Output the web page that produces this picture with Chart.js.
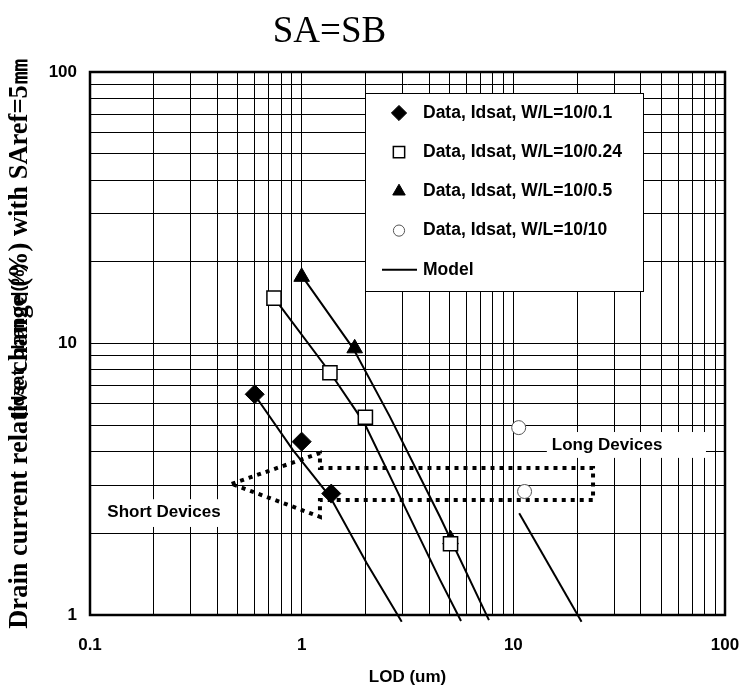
<!DOCTYPE html>
<html>
<head>
<meta charset="utf-8">
<script src="https://cdn.jsdelivr.net/npm/chart.js@4.4.1/dist/chart.umd.min.js"></script>
<style>
html, body { margin: 0; padding: 0; background: #fff; }
canvas { display: block; }
</style>
</head>
<body>
<canvas id="grafico" width="742" height="691"></canvas>
<script>
// decadas de los ejes (etiquetas)
const xDecadas = [0.1, 1, 10, 100];
const yDecadas = [1, 10, 100];

// datos medidos: [LOD (um), cambio (%)]
const datosL01 = [[0.6, 6.5], [1.0, 4.35], [1.38, 2.8]];
const datosL024 = [[0.74, 14.7], [1.36, 7.8], [2.0, 5.35], [5.05, 1.83]];
const datosL05 = [[1.0, 17.6], [1.78, 9.6], [5.05, 1.9]];
const datosL10 = [[10.6, 4.9], [11.3, 2.85]];

// curvas del modelo
const modeloL01 = [[0.6, 6.46], [0.91, 4.05], [1.36, 2.73], [2.03, 1.55], [2.97, 0.945]];
const modeloL024 = [[0.75, 14.55], [1.37, 7.77], [1.98, 5.08], [2.91, 2.73], [4.5, 1.35], [5.66, 0.95]];
const modeloL05 = [[1.02, 17.4], [1.75, 9.6], [2.61, 5.38], [4.5, 2.3], [7.67, 0.958]];
const modeloL10 = [[10.66, 2.37], [21.0, 0.945]];

// flecha punteada (short / long devices)
const flecha = [[0.467, 3.04], [1.22, 3.95], [1.22, 3.48], [23.8, 3.48], [23.8, 2.65], [1.22, 2.65], [1.22, 2.30], [0.467, 3.04]];

// textos dentro del grafico
const etiquetas = [
  { texto: 'Long Devices', x: 15.2, y: 4.23, caja: [14.4, 81.3, 3.79, 4.72] },
  { texto: 'Short Devices', x: 0.1207, y: 2.38, caja: [0.1115, 0.469, 2.11, 2.67] }
];

const SANS = '"Liberation Sans", Arial, sans-serif';
const SERIF = '"Liberation Serif", "Times New Roman", serif';

const pts = a => a.map(p => ({ x: p[0], y: p[1] }));

function rejilla(dec) {
  const out = [];
  for (let i = 0; i < dec.length - 1; i++) {
    for (let k = 1; k < 10; k++) out.push(+(dec[i] * k).toPrecision(3));
  }
  out.push(dec[dec.length - 1]);
  return out;
}

const modelo = (d) => ({
  label: 'Model', data: pts(d), showLine: true, pointRadius: 0,
  borderColor: '#000', borderWidth: 2, clip: { left: 0, top: 0, right: 0, bottom: 8 }
});

const extras = {
  id: 'extras',
  beforeDatasetsDraw(chart) {
    const { ctx, scales: { x, y } } = chart;
    ctx.save();
    ctx.font = 'bold 17px ' + SANS;
    ctx.textBaseline = 'middle';
    etiquetas.forEach(e => {
      const [x0, x1, y0, y1] = e.caja;
      const px0 = x.getPixelForValue(x0), px1 = x.getPixelForValue(x1);
      const py0 = y.getPixelForValue(y0), py1 = y.getPixelForValue(y1);
      ctx.fillStyle = '#fff';
      ctx.fillRect(px0, py1, px1 - px0, py0 - py1);
      ctx.fillStyle = '#000';
      ctx.fillText(e.texto, x.getPixelForValue(e.x), y.getPixelForValue(e.y));
    });
    ctx.restore();
  },
  afterDraw(chart) {
    const { ctx, chartArea: ca } = chart;
    ctx.save();
    // marco del area
    ctx.strokeStyle = '#000';
    ctx.lineWidth = 2.5;
    ctx.strokeRect(ca.left, ca.top, ca.right - ca.left, ca.bottom - ca.top);

    // leyenda
    ctx.fillStyle = '#fff';
    ctx.fillRect(365, 93, 278, 198);
    ctx.lineWidth = 1;
    ctx.strokeRect(365.5, 93.5, 278, 198);
    ctx.font = 'bold 17.5px ' + SANS;
    ctx.textBaseline = 'middle';
    ctx.textAlign = 'left';
    for (let i = 0; i < 4; i++) {
      const ds = chart.data.datasets[i];
      const yy = 113 + i * 39.2;
      ctx.fillStyle = ds.backgroundColor;
      ctx.strokeStyle = ds.borderColor;
      ctx.lineWidth = ds.borderWidth;
      Chart.helpers.drawPoint(ctx, { pointStyle: ds.pointStyle, radius: ds.pointRadius * 0.8, rotation: 0, borderWidth: ds.borderWidth }, 399, yy);
      ctx.fillStyle = '#000';
      ctx.fillText(ds.label, 423, yy);
    }
    const ym = 113 + 4 * 39.2;
    ctx.strokeStyle = '#000';
    ctx.lineWidth = 2;
    ctx.beginPath();
    ctx.moveTo(382, ym);
    ctx.lineTo(417, ym);
    ctx.stroke();
    ctx.fillStyle = '#000';
    ctx.fillText('Model', 423, ym);

    // titulo
    ctx.font = '37px ' + SERIF;
    ctx.textAlign = 'center';
    ctx.textBaseline = 'alphabetic';
    ctx.fillText('SA=SB', 329.5, 42);

    // texto superpuesto en el eje y
    ctx.translate(19, 340);
    ctx.rotate(-Math.PI / 2);
    ctx.font = 'bold 18px ' + SANS;
    ctx.textBaseline = 'middle';
    ctx.fillText('|Idsat_change|(%)', 0, 0);
    ctx.restore();
  }
};

new Chart(document.getElementById('grafico'), {
  type: 'scatter',
  data: {
    datasets: [
      { label: 'Data, Idsat, W/L=10/0.1', data: pts(datosL01), pointStyle: 'rectRot', pointRadius: 9.5,
        backgroundColor: '#000', borderColor: '#000', borderWidth: 1 },
      { label: 'Data, Idsat, W/L=10/0.24', data: pts(datosL024), pointStyle: 'rect', pointRadius: 10,
        backgroundColor: '#fff', borderColor: '#000', borderWidth: 1.5 },
      { label: 'Data, Idsat, W/L=10/0.5', data: pts(datosL05), pointStyle: 'triangle', pointRadius: 9,
        backgroundColor: '#000', borderColor: '#000', borderWidth: 1 },
      { label: 'Data, Idsat, W/L=10/10', data: pts(datosL10), pointStyle: 'circle', pointRadius: 7,
        backgroundColor: '#fff', borderColor: '#555', borderWidth: 1 },
      modelo(modeloL01),
      modelo(modeloL024),
      modelo(modeloL05),
      modelo(modeloL10),
      { label: '', data: pts(flecha), showLine: true, pointRadius: 0, borderColor: '#000',
        borderWidth: 4, borderDash: [4, 5] }
    ]
  },
  options: {
    responsive: false,
    animation: false,
    devicePixelRatio: 1,
    layout: { padding: { top: 72, right: 0, left: 0, bottom: 0 } },
    plugins: { legend: { display: false }, tooltip: { enabled: false } },
    scales: {
      x: {
        type: 'logarithmic', min: 0.1, max: 100,
        afterBuildTicks: s => { s.ticks = rejilla(xDecadas).map(v => ({ value: v })); },
        afterFit: s => { s.height = 76; s.paddingRight = 17; s.paddingLeft = 0; },
        grid: { color: '#000', lineWidth: 1, drawTicks: false },
        border: { display: false },
        ticks: {
          autoSkip: false, maxRotation: 0, padding: 20, color: '#000',
          font: { family: SANS, size: 17, weight: 'bold' },
          callback: v => xDecadas.includes(v) ? String(v) : ''
        },
        title: { display: true, text: 'LOD (um)', color: '#000', padding: { top: 0, bottom: 3 },
          font: { family: SANS, size: 17, weight: 'bold' } }
      },
      y: {
        type: 'logarithmic', min: 1, max: 100,
        afterBuildTicks: s => { s.ticks = rejilla(yDecadas).map(v => ({ value: v })); },
        afterFit: s => { s.width = 90; },
        grid: { color: '#000', lineWidth: 1, drawTicks: false },
        border: { display: false },
        ticks: {
          autoSkip: false, padding: 13, color: '#000',
          font: { family: SANS, size: 17, weight: 'bold' },
          callback: v => yDecadas.includes(v) ? String(v) : ''
        },
        title: { display: true, text: 'Drain current relative change (%) with SAref=5㎜', color: '#000',
          padding: { top: 4, bottom: 0 }, font: { family: SERIF, size: 26.5, weight: 'bold' } }
      }
    }
  },
  plugins: [extras]
});
</script>
</body>
</html>
